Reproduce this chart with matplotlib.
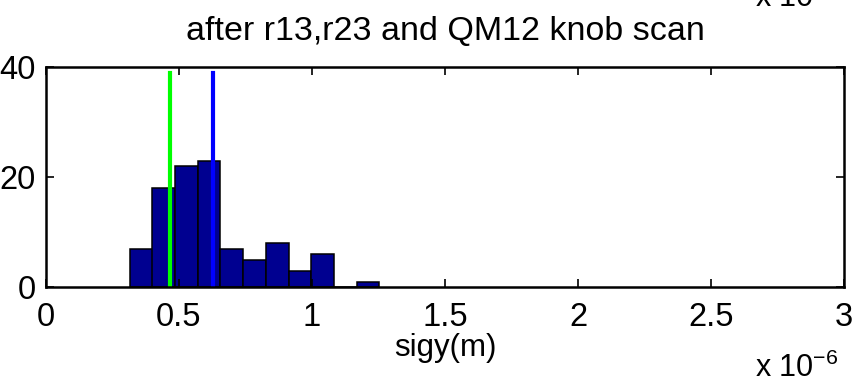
import matplotlib.pyplot as plt
import numpy as np

plt.rcParams['font.family'] = ['Liberation Sans', 'DejaVu Sans']
plt.rcParams['mathtext.fontset'] = 'custom'
plt.rcParams['mathtext.rm'] = 'Liberation Sans'

# histogram bins (left edges, in um) and counts
bin_left = [0.316, 0.400, 0.485, 0.570, 0.656, 0.742, 0.827, 0.913, 0.998, 1.083, 1.168]
bin_width = 0.0847
counts = [7, 18, 22, 23, 7, 5, 8, 3, 6, 0, 1]

# marker lines (um) and their height
green_x = 0.467
blue_x = 0.629
line_top = 39

scale = 1e-6

fig = plt.figure(figsize=(8.54, 3.83), dpi=100)
ax = fig.add_axes([46 / 854, 1 - 287 / 383, 798 / 854, 220 / 383])

ax.bar(np.array(bin_left) * scale, counts, width=bin_width * scale, align='edge',
       color='#000090', edgecolor='black', linewidth=1.1)
ax.plot([green_x * scale] * 2, [0, line_top], color='#00ff00', lw=3)
ax.plot([blue_x * scale] * 2, [0, line_top], color='#0000ff', lw=3)

ax.set_xlim(0, 3e-6)
ax.set_ylim(0, 40)
ax.set_xticks(np.arange(0, 3.01, 0.5) * scale)
ax.set_xticklabels(['0', '0.5', '1', '1.5', '2', '2.5', '3'])
ax.set_yticks([0, 20, 40])
ax.tick_params(direction='in', top=True, right=True, labelsize=23.5,
               length=6, width=1.2, pad=7.5)
ax.tick_params(axis='x', pad=11)
for s in ax.spines.values():
    s.set_linewidth(1.8)

fig.text(445 / 854, 1 - 40 / 383, 'after r13,r23 and QM12 knob scan',
         fontsize=24.5, ha='center', va='baseline')
ax.set_xlabel('sigy(m)', fontsize=22.5, labelpad=0)

# exponent labels (the top one belongs to the panel above)
fig.text(755 / 854, 1 - 377 / 383, r'x 10$^{-6}$', fontsize=22, ha='left', va='baseline')
fig.text(755 / 854, 1 - 7 / 383, r'x 10$^{-6}$', fontsize=22, ha='left', va='baseline')

fig.savefig('out.png', dpi=100)
